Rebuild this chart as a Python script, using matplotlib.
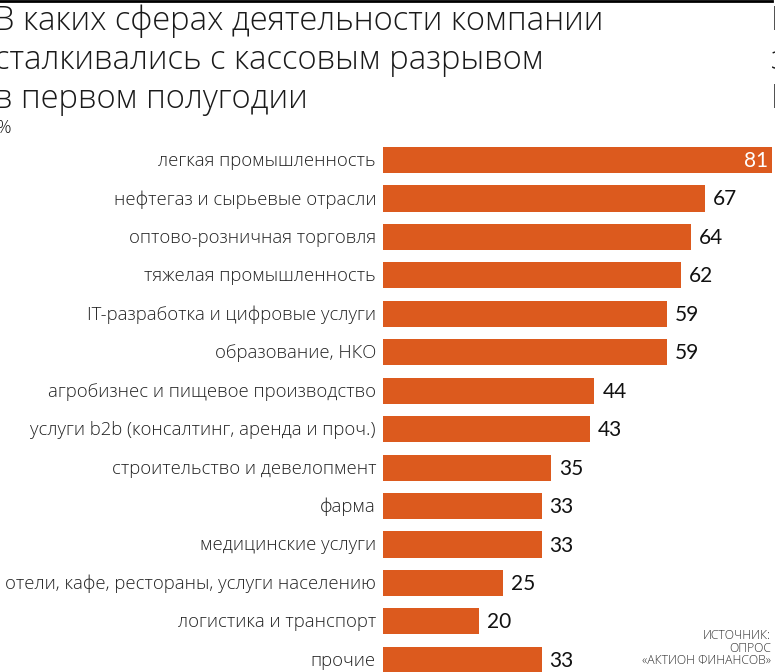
import matplotlib
matplotlib.use("Agg")
import matplotlib.pyplot as plt
from matplotlib.lines import Line2D
import matplotlib.transforms as mt

categories = [
    "легкая промышленность",
    "нефтегаз и сырьевые отрасли",
    "оптово-розничная торговля",
    "тяжелая промышленность",
    "IT-разработка и цифровые услуги",
    "образование, НКО",
    "агробизнес и пищевое производство",
    "услуги b2b (консалтинг, аренда и проч.)",
    "строительство и девелопмент",
    "фарма",
    "медицинские услуги",
    "отели, кафе, рестораны, услуги населению",
    "логистика и транспорт",
    "прочие",
]
values = [81, 67, 64, 62, 59, 59, 44, 43, 35, 33, 33, 25, 20, 33]
title_lines = ["В каких сферах деятельности компании",
               "сталкивались с кассовым разрывом",
               "в первом полугодии"]
unit = "%"
source = "ИСТОЧНИК:\nОПРОС\n«АКТИОН ФИНАНСОВ»"

W, H = 775, 672
fig = plt.figure(figsize=(W / 100, H / 100), dpi=100)
fig.patch.set_facecolor("white")

ORANGE = "#DC5A1E"
LABEL_FONT = ["Open Sans", "DejaVu Sans"]
NUM_FONT = ["Lato", "DejaVu Sans"]

x0 = 383
px_per_unit = 4.806
row0 = 160
row_h = 38.45
top_px, bot_px = 140, 672
ax = fig.add_axes([x0 / W, (H - bot_px) / H, (W - x0) / W, (bot_px - top_px) / H])
ax.set_xlim(0, (W - x0) / px_per_unit)
ax.set_ylim((bot_px - row0) / row_h, -(row0 - top_px) / row_h)
ax.axis("off")

ys = list(range(len(categories)))
ax.barh(ys, values, height=0.68, color=ORANGE, edgecolor="none")

lab_off = mt.offset_copy(ax.transData, fig=fig, x=-7, y=-1, units="dots")
val_off = mt.offset_copy(ax.transData, fig=fig, x=8, y=-1, units="dots")
in_off = mt.offset_copy(ax.transData, fig=fig, x=-4, y=-1, units="dots")

for y, cat, v in zip(ys, categories, values):
    ax.text(0, y, cat, transform=lab_off, ha="right", va="center",
            fontsize=13.3, family=LABEL_FONT, fontweight="light", color="#222222",
            clip_on=False)
    if v >= 75:
        ax.text(v, y, str(v), transform=in_off, ha="right", va="center",
                fontsize=15, family=NUM_FONT, color="white")
    else:
        ax.text(v, y, str(v), transform=val_off, ha="left", va="center",
                fontsize=15, family=NUM_FONT, color="#111111")

# title (cut at the left edge, as in the reference)
for i, line in enumerate(title_lines):
    fig.text(-6 / W, 1 - (21 + i * 39) / H, line, ha="left", va="center",
             fontsize=23.6, family=LABEL_FONT, fontweight="light", color="#1a1a1a")
fig.text(-3 / W, 1 - 128 / H, unit, ha="left", va="center",
         fontsize=13, family=LABEL_FONT, fontweight="light", color="#1a1a1a")

# right-column fragments (cut off at the edge)
for yy, ch in zip([21, 60, 99], ["В", "з", "В"]):
    fig.text(771 / W, 1 - yy / H, ch, ha="left", va="center",
             fontsize=23.6, family=LABEL_FONT, fontweight="light", color="#1a1a1a")

# top rule
fig.add_artist(Line2D([0, 772 / W], [1 - 1 / H, 1 - 1 / H], transform=fig.transFigure,
                      color="black", lw=2))

# source
fig.text(771 / W, 1 - 648 / H, source, ha="right", va="center",
         fontsize=8.8, family=LABEL_FONT, fontweight="light", color="#333333",
         linespacing=0.95)

fig.savefig("out.png", dpi=100, facecolor="white")
